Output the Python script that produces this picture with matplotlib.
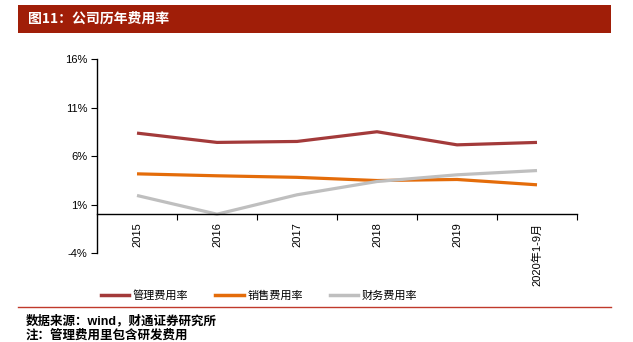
import matplotlib.pyplot as plt
from matplotlib.patches import Rectangle
from matplotlib.lines import Line2D

plt.rcParams['font.family'] = ['Liberation Sans', 'Noto Sans CJK SC', 'DejaVu Sans']

categories = ["2015", "2016", "2017", "2018", "2019", "2020年1-9月"]
mgmt_rate = [8.36, 7.4, 7.5, 8.5, 7.15, 7.4]
sales_rate = [4.16, 3.96, 3.8, 3.47, 3.58, 3.03]
fin_rate = [1.93, 0.0, 2.0, 3.37, 4.06, 4.5]
series_names = ["管理费用率", "销售费用率", "财务费用率"]
colors = ["#A33A3A", "#E46C0A", "#BFBFBF"]
y_ticks = [-4, 1, 6, 11, 16]

fig = plt.figure(figsize=(6.33, 3.42), dpi=100)

# title band
fig.patches.append(Rectangle((18 / 633, 1 - 33 / 342), (611 - 18) / 633, 28 / 342,
                             transform=fig.transFigure, facecolor="#A01E08", edgecolor="none"))
fig.text(28 / 633, 1 - 19 / 342, "图11：公司历年费用率", color="white", fontsize=10,
         fontweight="bold", va="center", ha="left", family=['Noto Sans CJK SC'])

ax = fig.add_axes([97 / 633, 1 - 253 / 342, (577 - 97) / 633, (253 - 59) / 342])
x = list(range(len(categories)))
for vals, c in zip([mgmt_rate, sales_rate, fin_rate], colors):
    ax.plot(x, vals, color=c, lw=2.3, solid_capstyle="butt")

ax.set_xlim(-0.5, len(categories) - 0.5)
ax.set_ylim(-4, 16)
ax.set_yticks(y_ticks)
ax.set_yticklabels([f"{t}%" for t in y_ticks], fontsize=8)
ax.spines["top"].set_visible(False)
ax.spines["right"].set_visible(False)
ax.spines["bottom"].set_position(("data", 0))
ax.spines["left"].set_linewidth(1.0)
ax.spines["bottom"].set_linewidth(1.0)
ax.set_xticks([i + 0.5 for i in x])
ax.set_xticklabels([])
ax.set_xticks(x, minor=True)
ax.set_xticklabels(categories, minor=True, rotation=90, fontsize=8)
ax.tick_params(axis="x", which="major", direction="out", length=4)
ax.tick_params(axis="x", which="minor", length=0, pad=6)
ax.tick_params(axis="y", direction="out", length=4, pad=3)

handles = [Line2D([0], [0], color=c, lw=2.5) for c in colors]
fig.legend(handles, series_names, loc="center", bbox_to_anchor=(259 / 633, 1 - 295 / 342),
           ncol=3, frameon=False, fontsize=8, handlelength=2.6, columnspacing=2.4,
           handletextpad=0.3)

fig.add_artist(Line2D([18 / 633, 611 / 633], [1 - 307 / 342, 1 - 307 / 342],
                      transform=fig.transFigure, color="#C0392B", lw=1))
fig.text(26 / 633, 1 - 321 / 342, "数据来源：wind，财通证券研究所", fontsize=9,
         fontweight="bold", va="center", ha="left")
fig.text(26 / 633, 1 - 336 / 342, "注：管理费用里包含研发费用", fontsize=9,
         fontweight="bold", va="center", ha="left")

fig.savefig("out.png", dpi=100)
